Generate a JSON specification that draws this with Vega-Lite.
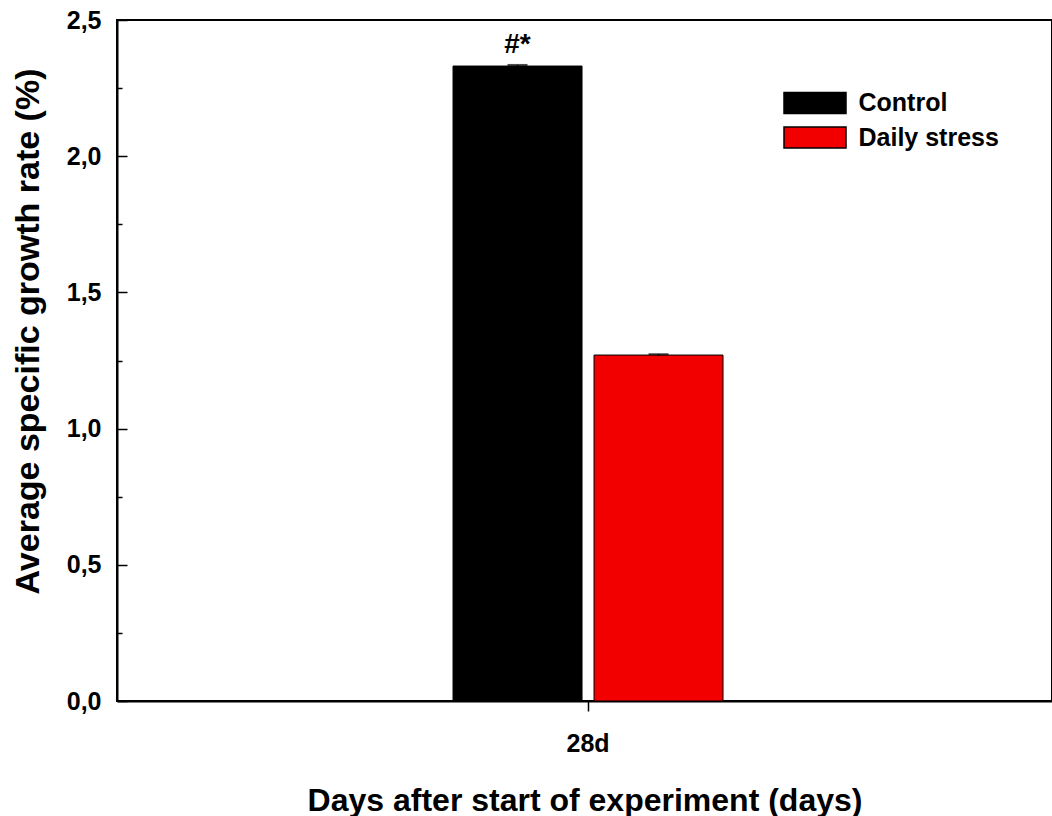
{
  "$schema": "https://vega.github.io/schema/vega-lite/v6.json",
  "width": 935,
  "height": 681,
  "autosize": {"type": "none"},
  "padding": {"left": 117, "top": 20, "right": 0, "bottom": 115},
  "background": "white",
  "config": {
    "view": {"stroke": "black", "strokeWidth": 2},
    "font": "Liberation Sans",
    "axis": {"domainColor": "black", "domainWidth": 2, "tickColor": "black", "tickWidth": 1.5, "grid": false, "labelColor": "black", "titleColor": "black", "labelFont": "Liberation Sans", "titleFont": "Liberation Sans", "labelFontWeight": "bold", "titleFontWeight": "bold", "labelFontSize": 25, "titleFontSize": 32}
  },
  "data": {"values": [
    {"day": "28d", "group": "Control", "value": 2.331, "lo": 2.327, "hi": 2.335, "label": "#*"},
    {"day": "28d", "group": "Daily stress", "value": 1.27, "lo": 1.267, "hi": 1.273, "label": ""}
  ]},
  "encoding": {
    "x": {"field": "day", "type": "nominal",
      "scale": {"paddingInner": 0.188, "paddingOuter": 1, "align": 0.5053},
      "axis": {"title": "Days after start of experiment (days)", "labelAngle": 0, "tickSize": 10, "labelPadding": 20, "titleY": 99, "titleBaseline": "middle"}},
    "xOffset": {"field": "group", "type": "nominal", "scale": {"paddingInner": 0.0851, "paddingOuter": 0}}
  },
  "layer": [
    {
      "mark": {"type": "bar", "stroke": "black", "strokeWidth": 1},
      "encoding": {
        "y": {"field": "value", "type": "quantitative",
          "scale": {"domain": [0, 2.5], "nice": false},
          "axis": {
            "title": "Average specific growth rate (%)",
            "titleFontSize": 34,
            "values": [0, 0.25, 0.5, 0.75, 1, 1.25, 1.5, 1.75, 2, 2.25, 2.5],
            "labelExpr": "round(datum.value*2) == datum.value*2 ? replace(format(datum.value, '.1f'), '.', ',') : ''",
            "tickSize": {"condition": {"test": "round(datum.value*2) == datum.value*2", "value": -10}, "value": -5},
            "labelPadding": 26,
            "titleX": -89, "titleY": 311, "titleBaseline": "middle"
          }},
        "color": {"field": "group", "type": "nominal",
          "scale": {"domain": ["Control", "Daily stress"], "range": ["#000000", "#f20000"]},
          "legend": {"title": null, "orient": "none", "legendX": 681.5, "legendY": 66.5, "padding": 0,
            "symbolType": "M-2,-0.68L2,-0.68L2,0.68L-2,0.68Z", "symbolSize": 961,
            "symbolStrokeColor": "black", "symbolStrokeWidth": 1.5, "symbolOpacity": 1,
            "labelFont": "Liberation Sans", "labelFontSize": 25, "labelFontWeight": "bold", "labelColor": "black",
            "labelOffset": 27, "rowPadding": 3.5}}
      }
    },
    {
      "mark": {"type": "rule", "color": "black", "strokeWidth": 1.5},
      "encoding": {"y": {"field": "lo", "type": "quantitative"}, "y2": {"field": "hi"}}
    },
    {
      "mark": {"type": "tick", "color": "black", "size": 20, "thickness": 2},
      "encoding": {"y": {"field": "hi", "type": "quantitative"}}
    },
    {
      "mark": {"type": "text", "font": "Liberation Sans", "fontWeight": "bold", "fontSize": 28, "baseline": "bottom", "dy": -6, "color": "black"},
      "encoding": {"y": {"field": "hi", "type": "quantitative"}, "text": {"field": "label"}}
    }
  ]
}
